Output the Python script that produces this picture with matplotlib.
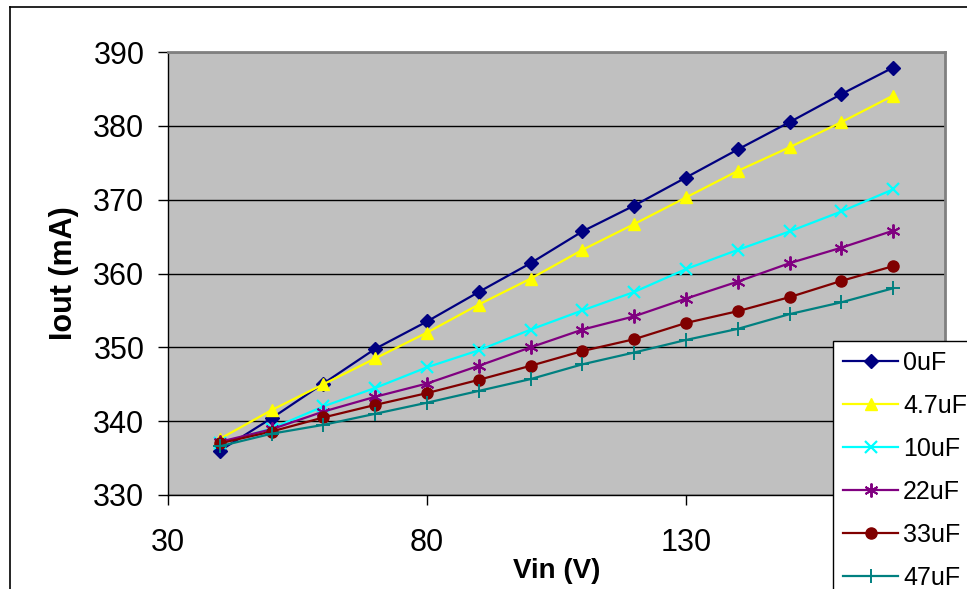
import numpy as np
import matplotlib
matplotlib.use('Agg')
from matplotlib import pyplot as plt
from matplotlib.lines import Line2D

plt.rcParams['font.family'] = ['Liberation Sans', 'DejaVu Sans']

vin = [40, 50, 60, 70, 80, 90, 100, 110, 120, 130, 140, 150, 160, 170]

iout_0uF = [336.0, 340.4, 345.1, 349.8, 353.5, 357.5, 361.4, 365.7, 369.2, 373.0, 376.8, 380.5, 384.3, 387.9]
iout_4u7F = [337.6, 341.5, 345.0, 348.5, 352.0, 355.8, 359.3, 363.2, 366.7, 370.3, 373.9, 377.1, 380.5, 384.1]
iout_10uF = [337.0, 339.0, 342.0, 344.5, 347.3, 349.6, 352.4, 355.0, 357.5, 360.6, 363.2, 365.7, 368.4, 371.4]
iout_22uF = [337.2, 338.9, 341.3, 343.3, 345.1, 347.5, 350.0, 352.4, 354.2, 356.6, 358.9, 361.4, 363.5, 365.8]
iout_33uF = [337.0, 338.6, 340.5, 342.2, 343.8, 345.6, 347.5, 349.5, 351.1, 353.3, 354.9, 356.8, 359.0, 361.0]
iout_47uF = [336.6, 338.3, 339.5, 341.0, 342.5, 344.1, 345.7, 347.7, 349.3, 351.0, 352.5, 354.5, 356.1, 358.0]

labels = ['0uF', '4.7uF', '10uF', '22uF', '33uF', '47uF']
xticks = [30, 80, 130]
yticks = [330, 340, 350, 360, 370, 380, 390]


def analysis():
	fig = plt.figure(figsize=(9.67, 5.89), dpi=100)
	ax = fig.add_axes([168/967, 1-495/589, (945-168)/967, (495-52)/589])
	ax.set_facecolor('#C0C0C0')

	series = [iout_0uF, iout_4u7F, iout_10uF, iout_22uF, iout_33uF, iout_47uF]
	colors = ['#000080', '#FFFF00', '#00FFFF', '#800080', '#800000', '#008080']
	markers = ['D', '^', 'x', (6, 2, 0), 'o', '+']
	msizes = [7, 9, 9, 10, 8, 10]
	mews = [1, 1, 1.6, 1.4, 1, 1.4]

	for s, c, m, ms, mw, lab in zip(series, colors, markers, msizes, mews, labels):
		ax.plot(vin, s, color=c, marker=m, markersize=ms, markeredgewidth=mw,
			markerfacecolor=c, markeredgecolor=c, linewidth=1.6, label=lab)

	ax.set_xlim(30, 180)
	ax.set_ylim(330, 390)
	ax.set_xticks(xticks)
	ax.set_yticks(yticks)
	ax.yaxis.grid(True, color='#000000', linewidth=1.0)
	ax.set_axisbelow(True)
	ax.tick_params(axis='both', labelsize=22, length=7, width=1, color='#000000')
	ax.tick_params(axis='x', pad=17)
	ax.tick_params(axis='y', pad=10)
	for side in ['top', 'right']:
		ax.spines[side].set_color('#808080')
		ax.spines[side].set_linewidth(2)
	for side in ['left', 'bottom']:
		ax.spines[side].set_color('#000000')
		ax.spines[side].set_linewidth(1)

	ax.set_xlabel('Vin (V)', fontsize=20, fontweight='bold', labelpad=0)
	ax.set_ylabel('Iout (mA)', fontsize=22, fontweight='bold', labelpad=10)

	# chart area border (cut off on right and bottom)
	fig.add_artist(Line2D([10/967, 1.0], [1-7/589, 1-7/589], color='black', linewidth=1.2, transform=fig.transFigure))
	fig.add_artist(Line2D([10/967, 10/967], [1-7/589, 0.0], color='black', linewidth=1.2, transform=fig.transFigure))

	leg = fig.legend(loc='upper left', bbox_to_anchor=(833/967, 1-341/589), borderaxespad=0,
		fontsize=18, frameon=True, fancybox=False, edgecolor='black', framealpha=1,
		handlelength=2.2, handletextpad=0.2, labelspacing=0.76, borderpad=0.4)
	leg.get_frame().set_linewidth(1)

	fig.savefig('out.png', dpi=100)


if __name__ == '__main__':
	analysis()
